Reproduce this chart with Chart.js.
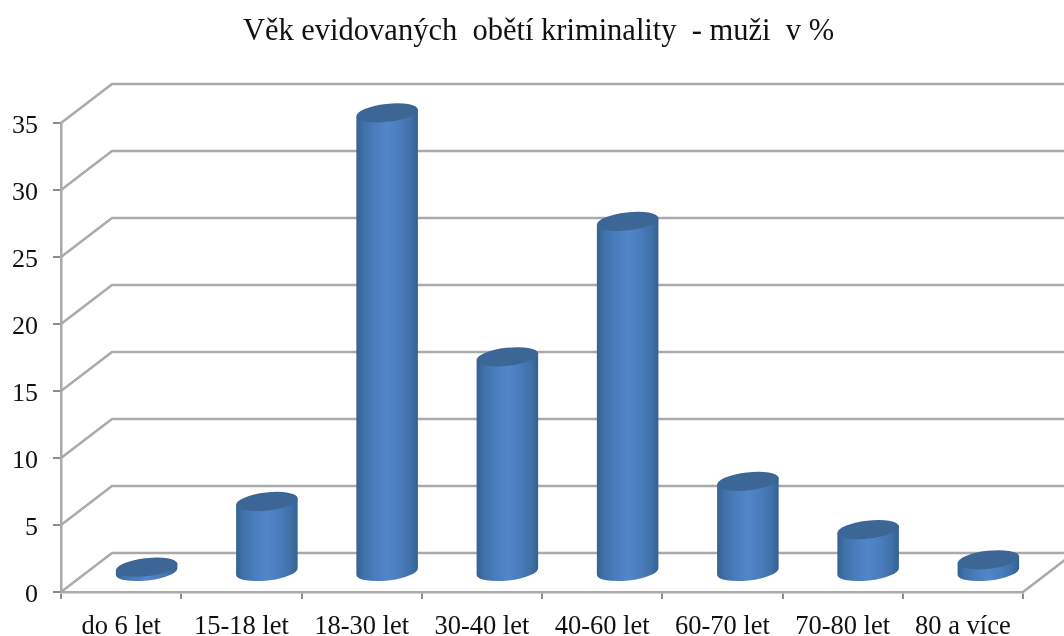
<!DOCTYPE html>
<html><head><meta charset="utf-8">
<style>html,body{margin:0;padding:0;background:#fff}canvas{display:block;filter:blur(0.5px)}</style>
<script src="https://cdn.jsdelivr.net/npm/chart.js@4"></script></head>
<body><canvas id="c" width="1064" height="636"></canvas>
<script>
const categories = ["do 6 let","15-18 let","18-30 let","30-40 let","40-60 let","60-70 let","70-80 let","80 a více"];
const values = [0.4,5.3,34.3,16.1,26.2,6.8,3.2,0.95];
const titleText = "Věk evidovaných  obětí kriminality  - muži  v %";
const depthX = 51, depthY = 39, gridColor = "#aaaaaa", FONT = "'Liberation Serif'";

Chart.BarElement.prototype.draw = function(ctx){
  const p = this.getProps(['x','y','base','width']);
  const cx = p.x + depthX/2, top = p.y - depthY/2, base = p.base - depthY/2;
  const rx = p.width/2, ry = 9, rot = -0.115;
  const dy = rx*Math.sin(rot);
  const g = ctx.createLinearGradient(cx-rx,0,cx+rx,0);
  g.addColorStop(0,"#33618f"); g.addColorStop(0.12,"#3f70a8"); g.addColorStop(0.3,"#4a7dbd");
  g.addColorStop(0.5,"#5186c9"); g.addColorStop(0.7,"#4a7dbd"); g.addColorStop(0.88,"#3f70a8"); g.addColorStop(1,"#33618f");
  ctx.save();
  ctx.beginPath();
  ctx.ellipse(cx,base,rx,ry,rot,Math.PI,0,true);
  ctx.lineTo(cx+rx*Math.cos(rot),top+dy);
  ctx.lineTo(cx-rx*Math.cos(rot),top-dy);
  ctx.closePath();
  ctx.fillStyle = g; ctx.fill();
  ctx.beginPath();
  ctx.ellipse(cx,top,rx,ry,rot,0,Math.PI*2);
  ctx.fillStyle = "#3c6696"; ctx.fill();
  ctx.restore();
};

const rightGap = {
  id:'rightGap',
  install(chart){
    Chart.layouts.addBox(chart,{
      position:'right',weight:100,fullSize:false,width:41,height:0,options:{},
      isHorizontal(){return false},
      update(w,h){this.height=h;this.width=41;return {w:41,h}},
      draw(){}
    });
  }
};

const walls = {
  id:'walls',
  beforeDatasetsDraw(chart){
    const {ctx,scales:{x,y}} = chart;
    ctx.save();
    ctx.strokeStyle = gridColor; ctx.lineWidth = 2.5;
    y.ticks.forEach(t=>{
      const py = y.getPixelForValue(t.value);
      ctx.beginPath();
      ctx.moveTo(x.left,py);
      ctx.lineTo(x.left+depthX,py-depthY);
      ctx.lineTo(chart.width+depthX,py-depthY);
      ctx.stroke();
    });
    const by = y.getPixelForValue(0);
    ctx.beginPath();
    ctx.moveTo(x.right,by);
    ctx.lineTo(x.right+depthX,by-depthY);
    ctx.stroke();
    ctx.restore();
  }
};

new Chart(document.getElementById('c'),{
  type:'bar',
  data:{labels:categories,datasets:[{data:values,backgroundColor:"#4f81bd",categoryPercentage:1,barPercentage:0.515,clip:false}]},
  plugins:[rightGap,walls],
  options:{
    responsive:false,animation:false,
    layout:{padding:{left:13,right:0,top:0,bottom:0}},
    plugins:{
      legend:{display:false},tooltip:{enabled:false},
      title:{display:true,text:titleText,color:"#111111",font:{family:FONT,size:30.5,weight:'normal'},padding:{top:14,bottom:72.4}}
    },
    scales:{
      x:{
        afterFit:s=>{s.height=44},
        grid:{drawOnChartArea:false,color:"#8c8c8c",lineWidth:2,tickLength:7},
        border:{color:gridColor,width:2.5},
        ticks:{color:"#111111",font:{family:FONT,size:26.5},maxRotation:0,autoSkip:false,padding:12}
      },
      y:{
        min:0,max:35,
        afterFit:s=>{s.width=48},
        grid:{drawOnChartArea:false,color:"#8c8c8c",lineWidth:2,tickLength:8},
        border:{color:gridColor,width:2.5},
        ticks:{stepSize:5,color:"#111111",font:{family:FONT,size:26},padding:15,labelOffset:3}
      }
    }
  }
});
</script></body></html>
